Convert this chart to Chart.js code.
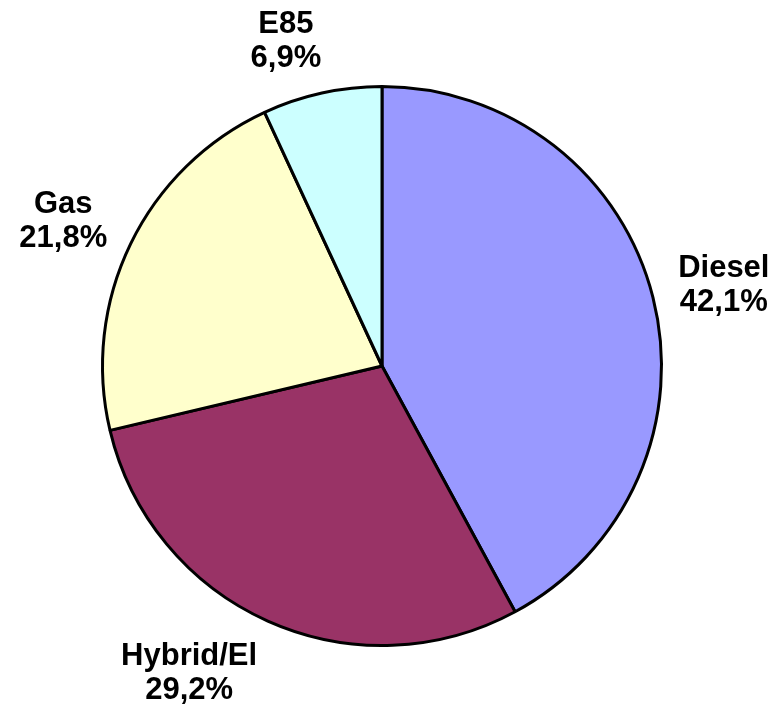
<!DOCTYPE html>
<html><head><meta charset="utf-8">
<script src="https://cdn.jsdelivr.net/npm/chart.js@4/dist/chart.umd.min.js"></script>
<style>html,body{margin:0;padding:0;background:#fff}#wrap{width:779px;height:712px}</style>
</head><body><div id="wrap"><canvas id="c" width="779" height="712"></canvas></div>
<script>
const categories = ['Diesel', 'Hybrid/El', 'Gas', 'E85'];
const shares = [42.1, 29.2, 21.8, 6.9];
const sliceColors = ['#9999FF', '#993366', '#FFFFCC', '#CCFFFF'];

const outsideLabels = {
  id: 'outsideLabels',
  afterDatasetsDraw(chart) {
    const ctx = chart.ctx;
    const meta = chart.getDatasetMeta(0);
    const data = chart.data.datasets[0].data;
    const total = data.reduce((a, b) => a + b, 0);
    ctx.save();
    ctx.font = 'bold 31px "Liberation Sans", Arial, sans-serif';
    ctx.fillStyle = '#000';
    ctx.textAlign = 'center';
    ctx.textBaseline = 'middle';
    const lineH = 34;
    const clamp = v => Math.max(-1, Math.min(1, v));
    meta.data.forEach((arc, i) => {
      const p = arc.getProps(['x', 'y', 'startAngle', 'endAngle', 'outerRadius'], true);
      const mid = (p.startAngle + p.endAngle) / 2;
      const dx = Math.cos(mid), dy = Math.sin(mid);
      const lines = [chart.data.labels[i], (data[i] / total * 100).toFixed(1).replace('.', ',') + '%'];
      const hw = Math.max(...lines.map(l => ctx.measureText(l).width)) / 2;
      const hh = 29;
      const R = p.outerRadius + 26;
      const cx = p.x + R * dx + clamp(4 * dx) * hw;
      const cy = p.y + R * dy + dy * hh + 2;
      ctx.fillText(lines[0], cx, cy - lineH / 2);
      ctx.fillText(lines[1], cx, cy + lineH / 2);
    });
    ctx.restore();
  }
};

new Chart(document.getElementById('c'), {
  type: 'pie',
  data: {
    labels: categories,
    datasets: [{
      data: shares,
      backgroundColor: sliceColors,
      borderColor: '#000000',
      borderWidth: 3
    }]
  },
  options: {
    responsive: false,
    animation: false,
    layout: { padding: { left: 101, right: 116, top: 85, bottom: 65 } },
    plugins: { legend: { display: false }, tooltip: { enabled: false } }
  },
  plugins: [outsideLabels]
});
</script>
</body></html>
